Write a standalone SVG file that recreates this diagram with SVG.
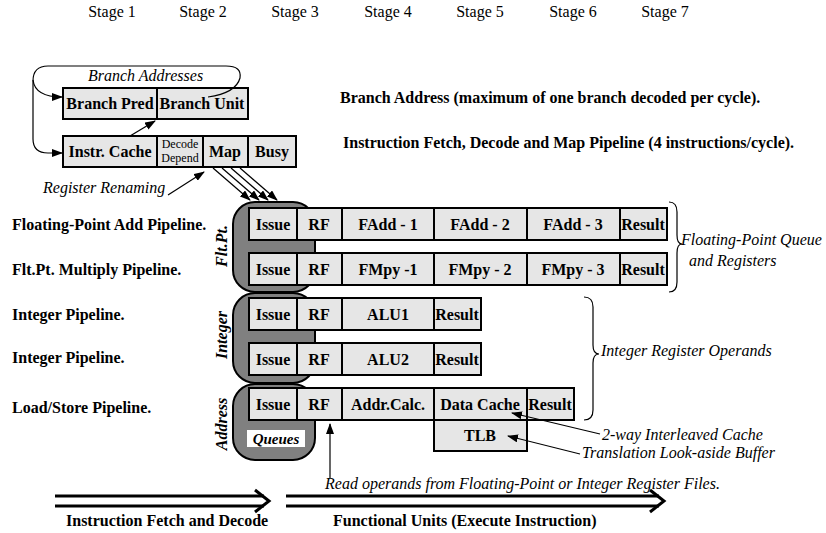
<svg xmlns="http://www.w3.org/2000/svg" width="826" height="533" viewBox="0 0 826 533">
<style>
text{font-family:"Liberation Serif","Times New Roman",serif;fill:#000}
.st{font-size:16px}
.b{font-size:16px;font-weight:bold}
.bc{font-size:16px;font-weight:bold;text-anchor:middle}
.i{font-size:16px;font-style:italic}
.sm{font-size:12px;text-anchor:middle}
.side{font-size:16px;font-weight:bold;font-style:italic;text-anchor:middle}
.box{fill:#e6e6e6;stroke:#000;stroke-width:2}
.q{fill:#808080;stroke:#000;stroke-width:2}
.ln{fill:none;stroke:#000;stroke-width:1.2}
.dbl{fill:none;stroke:#000;stroke-width:3}
</style>
<defs>
<marker id="ah" markerUnits="userSpaceOnUse" markerWidth="11" markerHeight="8" refX="10" refY="4" orient="auto">
<path d="M0,0 L11,4 L0,8 Z" fill="#000"/>
</marker>
</defs>
<rect width="826" height="533" fill="#fff"/>

<g id="stages">
<text class="st" x="112" y="17" text-anchor="middle">Stage 1</text>
<text class="st" x="203" y="17" text-anchor="middle">Stage 2</text>
<text class="st" x="295" y="17" text-anchor="middle">Stage 3</text>
<text class="st" x="388" y="17" text-anchor="middle">Stage 4</text>
<text class="st" x="480" y="17" text-anchor="middle">Stage 5</text>
<text class="st" x="573" y="17" text-anchor="middle">Stage 6</text>
<text class="st" x="665" y="17" text-anchor="middle">Stage 7</text>
</g>

<g id="labels">
<text class="i" x="88" y="81">Branch Addresses</text>
<text class="i" x="43" y="193">Register Renaming</text>
<text class="b" x="340" y="103">Branch Address (maximum of one branch decoded per cycle).</text>
<text class="b" x="343" y="148">Instruction Fetch, Decode and Map Pipeline (4 instructions/cycle).</text>
<text class="b" x="12" y="230">Floating-Point Add Pipeline.</text>
<text class="b" x="12" y="275">Flt.Pt. Multiply Pipeline.</text>
<text class="b" x="12" y="320">Integer Pipeline.</text>
<text class="b" x="12" y="363">Integer Pipeline.</text>
<text class="b" x="12" y="413">Load/Store Pipeline.</text>
<text class="i" x="681" y="245">Floating-Point Queue</text>
<text class="i" x="689" y="266">and Registers</text>
<text class="i" x="601" y="356">Integer Register Operands</text>
<text class="i" x="602" y="440">2-way Interleaved Cache</text>
<text class="i" x="582" y="458">Translation Look-aside Buffer</text>
<text class="i" x="325" y="489">Read operands from Floating-Point or Integer Register Files.</text>
<text class="b" x="66" y="526">Instruction Fetch and Decode</text>
<text class="b" x="333" y="526">Functional Units (Execute Instruction)</text>
</g>

<g id="branch-pred"><rect class="box" x="63" y="88" width="94" height="31"/><text class="bc" x="110" y="109">Branch Pred</text></g>
<g id="branch-unit"><rect class="box" x="157" y="88" width="91" height="31"/><text class="bc" x="202" y="109">Branch Unit</text></g>
<g id="instr-cache"><rect class="box" x="63" y="136" width="94" height="31"/><text class="bc" x="110" y="157">Instr. Cache</text></g>
<g id="decode"><rect class="box" x="157" y="136" width="46" height="31"/><text class="sm" x="180" y="148">Decode</text><text class="sm" x="180" y="162">Depend</text></g>
<g id="map"><rect class="box" x="203" y="136" width="45" height="31"/><text class="bc" x="225" y="157">Map</text></g>
<g id="busy"><rect class="box" x="248" y="136" width="48" height="31"/><text class="bc" x="272" y="157">Busy</text></g>

<g id="queue-fp"><rect class="q" x="233" y="202" width="82" height="90" rx="22"/><text class="side" transform="translate(227,246) rotate(-90)">Flt.Pt.</text></g>
<g id="queue-int"><rect class="q" x="233" y="293" width="82" height="90" rx="22"/><text class="side" transform="translate(227,335) rotate(-90)">Integer</text></g>
<g id="queue-addr"><rect class="q" x="233" y="384" width="82" height="76" rx="22"/><text class="side" transform="translate(227,424) rotate(-90)">Address</text>
<rect x="247" y="430" width="58" height="17" fill="#fff"/><text class="side" x="276" y="444" style="font-size:15px">Queues</text></g>

<g id="row-fadd">
<rect class="box" x="249" y="208" width="48" height="32"/><text class="bc" x="273" y="230">Issue</text>
<rect class="box" x="297" y="208" width="45" height="32"/><text class="bc" x="319" y="230">RF</text>
<rect class="box" x="342" y="208" width="92" height="32"/><text class="bc" x="388" y="230">FAdd - 1</text>
<rect class="box" x="434" y="208" width="93" height="32"/><text class="bc" x="480" y="230">FAdd - 2</text>
<rect class="box" x="527" y="208" width="93" height="32"/><text class="bc" x="573" y="230">FAdd - 3</text>
<rect class="box" x="620" y="208" width="47" height="32"/><text class="bc" x="643" y="230">Result</text>
</g>
<g id="row-fmpy">
<rect class="box" x="249" y="253" width="48" height="32"/><text class="bc" x="273" y="275">Issue</text>
<rect class="box" x="297" y="253" width="45" height="32"/><text class="bc" x="319" y="275">RF</text>
<rect class="box" x="342" y="253" width="92" height="32"/><text class="bc" x="388" y="275">FMpy -1</text>
<rect class="box" x="434" y="253" width="93" height="32"/><text class="bc" x="480" y="275">FMpy - 2</text>
<rect class="box" x="527" y="253" width="93" height="32"/><text class="bc" x="573" y="275">FMpy - 3</text>
<rect class="box" x="620" y="253" width="47" height="32"/><text class="bc" x="643" y="275">Result</text>
</g>
<g id="row-alu1">
<rect class="box" x="249" y="298" width="48" height="32"/><text class="bc" x="273" y="320">Issue</text>
<rect class="box" x="297" y="298" width="45" height="32"/><text class="bc" x="319" y="320">RF</text>
<rect class="box" x="342" y="298" width="92" height="32"/><text class="bc" x="388" y="320">ALU1</text>
<rect class="box" x="434" y="298" width="47" height="32"/><text class="bc" x="457" y="320">Result</text>
</g>
<g id="row-alu2">
<rect class="box" x="249" y="343" width="48" height="32"/><text class="bc" x="273" y="365">Issue</text>
<rect class="box" x="297" y="343" width="45" height="32"/><text class="bc" x="319" y="365">RF</text>
<rect class="box" x="342" y="343" width="92" height="32"/><text class="bc" x="388" y="365">ALU2</text>
<rect class="box" x="434" y="343" width="47" height="32"/><text class="bc" x="457" y="365">Result</text>
</g>
<g id="row-ls">
<rect class="box" x="249" y="388" width="48" height="32"/><text class="bc" x="273" y="410">Issue</text>
<rect class="box" x="297" y="388" width="45" height="32"/><text class="bc" x="319" y="410">RF</text>
<rect class="box" x="342" y="388" width="92" height="32"/><text class="bc" x="388" y="410">Addr.Calc.</text>
<rect class="box" x="434" y="388" width="93" height="32"/><text class="bc" x="480" y="410">Data Cache</text>
<rect class="box" x="527" y="388" width="47" height="32"/><text class="bc" x="550" y="410">Result</text>
</g>
<g id="tlb"><rect class="box" x="434" y="420" width="93" height="31"/><text class="bc" x="480" y="441">TLB</text></g>

<g id="connectors">
<path class="ln" d="M208,97 Q236,93 240,78 Q242,66 226,66 L48,66 Q33,66 33,81 L33,139 Q33,153 48,153 L62,153" marker-end="url(#ah)"/>
<path class="ln" d="M33,80 Q35,97 62,97" marker-end="url(#ah)"/>
<line class="ln" x1="130" y1="136" x2="155" y2="121" marker-end="url(#ah)"/>
<line class="ln" x1="168" y1="195" x2="204" y2="172" marker-end="url(#ah)"/>
<line class="ln" x1="213" y1="168" x2="250" y2="200" marker-end="url(#ah)"/>
<line class="ln" x1="222" y1="168" x2="259" y2="200" marker-end="url(#ah)"/>
<line class="ln" x1="231" y1="168" x2="268" y2="200" marker-end="url(#ah)"/>
<line class="ln" x1="240" y1="168" x2="277" y2="200" marker-end="url(#ah)"/>
<line class="ln" x1="600" y1="434" x2="512" y2="413" marker-end="url(#ah)"/>
<line class="ln" x1="580" y1="454" x2="508" y2="436" marker-end="url(#ah)"/>
<line class="ln" x1="330" y1="478" x2="330" y2="424" marker-end="url(#ah)"/>
<path class="ln" d="M669,202 Q677,202 677,212 L677,235 Q677,244 682,244 Q677,244 677,253 L677,282 Q677,292 669,292"/>
<path class="ln" d="M584,297 Q593,297 593,307 L593,345 Q593,354 599,354 Q593,354 593,363 L593,410 Q593,420 584,420"/>
<g id="dbl-left">
<line class="dbl" x1="55" y1="496" x2="264" y2="496"/>
<line class="dbl" x1="55" y1="506" x2="264" y2="506"/>
<polyline class="dbl" points="255,490 269,501 255,512"/>
</g>
<g id="dbl-right">
<line class="dbl" x1="286" y1="496" x2="659" y2="496"/>
<line class="dbl" x1="286" y1="506" x2="659" y2="506"/>
<polyline class="dbl" points="650,490 664,501 650,512"/>
</g>
</g>
</svg>
